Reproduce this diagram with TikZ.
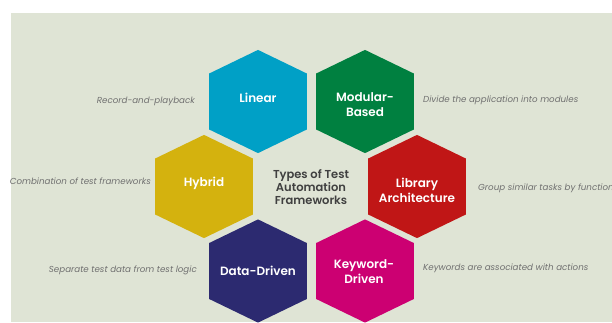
\documentclass[tikz,border=0pt]{standalone}
\usepackage{fontspec}
\setmainfont{Poppins}[BoldFont={Poppins SemiBold}]
\begin{document}
\definecolor{sage}{RGB}{223,228,213}
\definecolor{clinear}{RGB}{0,160,198}
\definecolor{cmodular}{RGB}{0,128,64}
\definecolor{chybrid}{RGB}{212,178,14}
\definecolor{clibrary}{RGB}{192,22,22}
\definecolor{cdata}{RGB}{44,42,112}
\definecolor{ckeyword}{RGB}{204,0,114}
\definecolor{titlegrey}{RGB}{64,64,64}
\definecolor{notegrey}{RGB}{112,112,112}
% hexagon cell: name, centre x, centre y, colour
\newcommand{\hexcell}[4]{%
  \fill[#4] (#2,#3) ++(0,-51.6) -- ++(48.8,23.6) -- ++(0,56) -- ++(-48.8,23.6)
    -- ++(-48.8,-23.6) -- ++(0,-56) -- cycle;
  \coordinate (#1) at (#2,#3);
}
\begin{tikzpicture}[x=1pt,y=-1pt,
  hexlabel/.style={text=white,font=\fontsize{12}{14.8}\selectfont\bfseries,align=center,inner sep=0pt},
  note/.style={text=notegrey,font=\fontsize{8.7}{10}\selectfont\itshape,inner sep=0pt},
  title/.style={text=titlegrey,font=\fontsize{11.5}{13}\selectfont\bfseries,align=center,inner sep=0pt}]
\useasboundingbox (0,0) rectangle (612,322);
\fill[white] (0,0) rectangle (612,322);
\fill[sage] (11,13) rectangle (612,322);

\hexcell{hLinear}{258}{101.5}{clinear}
\hexcell{hModular}{365}{101.5}{cmodular}
\hexcell{hHybrid}{204}{186.5}{chybrid}
\hexcell{hLibrary}{417}{186.5}{clibrary}
\hexcell{hData}{258}{271}{cdata}
\hexcell{hKeyword}{365}{271}{ckeyword}

\node[hexlabel] (lLinear) at (258,97.5) {Linear};
\node[hexlabel] (lModular) at (365,104.5) {Modular-\\Based};
\node[hexlabel] (lHybrid) at (204,183.5) {Hybrid};
\node[hexlabel] (lLibrary) at (417,190.5) {Library\\Architecture};
\node[hexlabel] (lData) at (258,271) {Data-Driven};
\node[hexlabel] (lKeyword) at (364,271.5) {Keyword-\\Driven};

\node[title] (center) at (311,187) {Types of Test\\Automation\\Frameworks};

\node[note,anchor=mid east] (nLinear) at (195,101) {Record-and-playback};
\node[note,anchor=mid east] (nHybrid) at (151,182) {Combination of test frameworks};
\node[note,anchor=mid east] (nData) at (197,270) {Separate test data from test logic};
\node[note,anchor=mid west] (nModular) at (423,100) {Divide the application into modules};
\node[note,anchor=mid west] (nLibrary) at (478,188) {Group similar tasks by functionality};
\node[note,anchor=mid west] (nKeyword) at (423,268) {Keywords are associated with actions};
\end{tikzpicture}
\end{document}
